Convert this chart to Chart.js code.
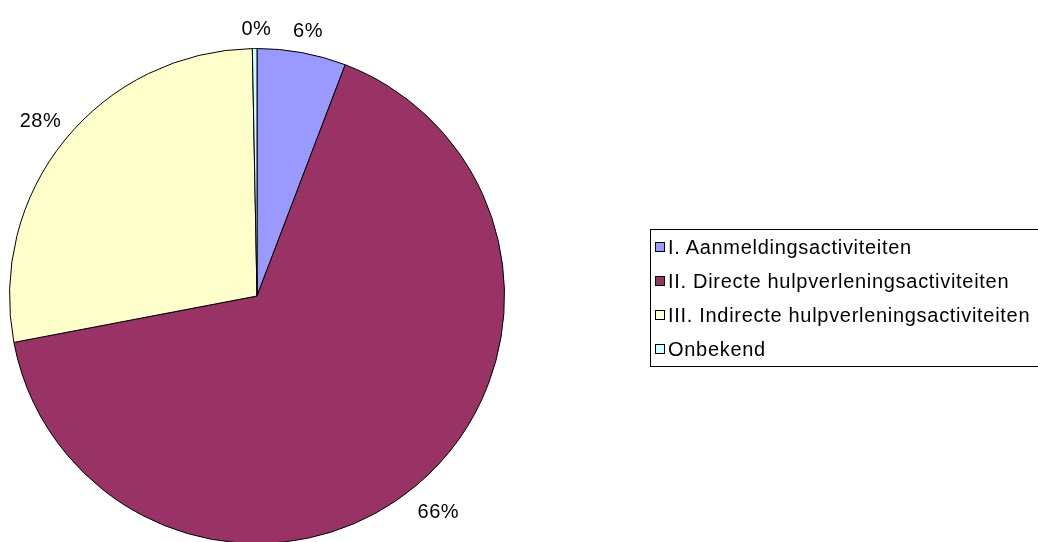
<!DOCTYPE html>
<html><head><meta charset="utf-8">
<script src="https://cdn.jsdelivr.net/npm/chart.js@4/dist/chart.umd.min.js"></script>
<style>
html,body{margin:0;padding:0;background:#fff;overflow:hidden;width:1038px;height:542px;}
#wrap{position:absolute;left:0;top:0;width:1038px;height:560px;}
#labels{position:absolute;left:0;top:0;}
.lbl{position:absolute;font-family:"Liberation Sans",Arial,sans-serif;font-size:20px;letter-spacing:0.5px;color:#000;white-space:nowrap;line-height:20px;}
#legend{position:absolute;left:650px;top:229px;width:420px;height:136px;border:1px solid #000;font-family:"Liberation Sans",Arial,sans-serif;font-size:20px;letter-spacing:0.7px;color:#000;}
.item{position:absolute;left:4px;height:34px;display:flex;align-items:center;white-space:nowrap;}
.sw{width:8px;height:8px;border:1px solid #000;margin-right:3px;}
</style>
</head><body>
<div id="wrap"><canvas id="c" width="1038" height="560"></canvas></div>
<div id="labels"></div>
<div id="legend"></div>
<script>
const categories = ['I. Aanmeldingsactiviteiten','II. Directe hulpverleningsactiviteiten','III. Indirecte hulpverleningsactiviteiten','Onbekend'];
const values = [5.8, 66.2, 27.7, 0.3];
const pctLabels = ['6%','66%','28%','0%'];
const colors = ['#9999FF','#993366','#FFFFCC','#CCFFFF'];

// legend
const legend = document.getElementById('legend');
categories.forEach((c,i)=>{
  const it = document.createElement('div');
  it.className='item';
  it.style.top = (i*34)+'px';
  const sw = document.createElement('span'); sw.className='sw'; sw.style.background=colors[i];
  const tx = document.createElement('span'); tx.textContent=c;
  it.appendChild(sw); it.appendChild(tx); legend.appendChild(it);
});

const labelPlugin = {
  id:'outLabels',
  afterDraw(chart){
    const box = document.getElementById('labels');
    box.innerHTML='';
    const meta = chart.getDatasetMeta(0);
    meta.data.forEach((el,i)=>{
      const p = el.getProps(['x','y','startAngle','endAngle','outerRadius'],true);
      const mid = (p.startAngle+p.endAngle)/2;
      const d = document.createElement('div');
      d.className='lbl'; d.textContent=pctLabels[i];
      box.appendChild(d);
      const w=d.offsetWidth, h=d.offsetHeight;
      const dx=Math.cos(mid), dy=Math.sin(mid);
      const dist = p.outerRadius + 11 + Math.abs(dx)*w/2 + Math.abs(dy)*h/2;
      d.style.left=(p.x+dx*dist-w/2+2)+'px';
      d.style.top=(p.y+dy*dist-h/2+1)+'px';
    });
  }
};

new Chart(document.getElementById('c'),{
  type:'pie',
  data:{labels:categories,datasets:[{data:values,backgroundColor:colors,borderColor:'#000',borderWidth:1}]},
  options:{
    responsive:false,animation:false,
    layout:{padding:{left:9,top:48,right:533,bottom:16}},
    plugins:{legend:{display:false},tooltip:{enabled:false}}
  },
  plugins:[labelPlugin]
});
</script>
</body></html>
